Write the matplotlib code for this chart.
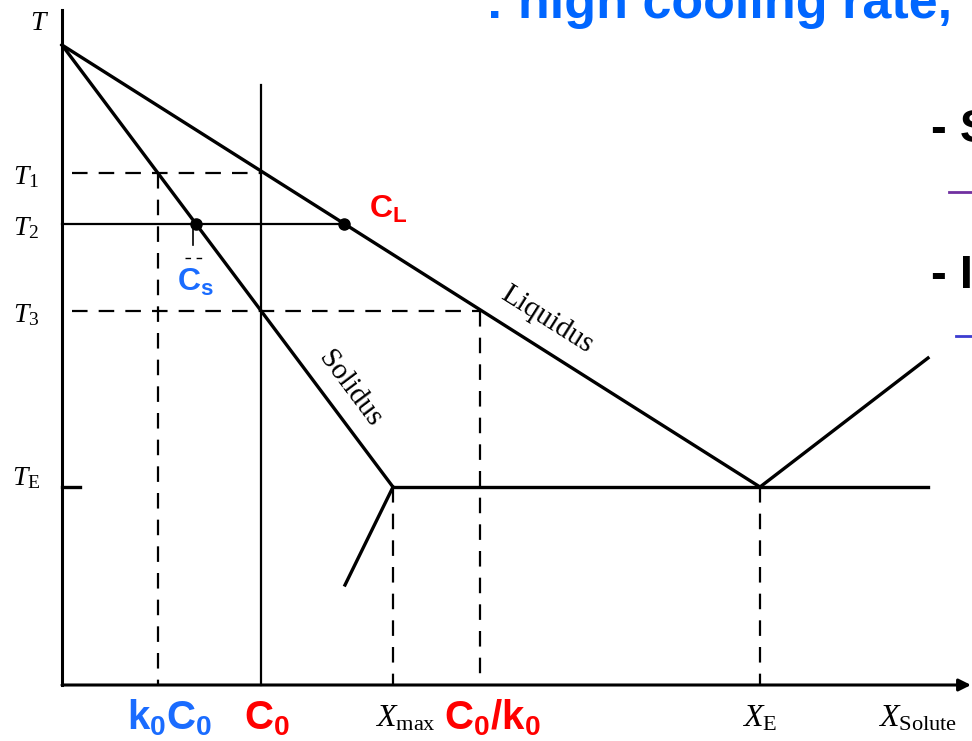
import numpy as np
import matplotlib.pyplot as plt

plt.rcParams['mathtext.fontset'] = 'custom'
plt.rcParams['mathtext.rm'] = 'Liberation Serif'
plt.rcParams['mathtext.it'] = 'Liberation Serif:italic'
plt.rcParams['mathtext.bf'] = 'Liberation Sans:bold'

#%% values (x = composition, T = temperature, arbitrary units)

T_m = 64.0
T1, T2, T3, T_E = 51.2, 46.1, 37.4, 19.8

x_k0C0 = 9.6
x_Cs = 13.4
x_C0 = 19.9
x_CL = 28.2
x_max = 33.1
x_C0k0 = 41.8
x_E = 69.8
x_right = 86.6

liq_x = [0, x_E]
liq_T = [T_m, T_E]
sol_x = [0, x_max]
sol_T = [T_m, T_E]
liq2_x = [x_E, x_right]
liq2_T = [T_E, 32.7]
solvus_x = [x_max, 28.3]
solvus_T = [T_E, 10.0]
eut_x = [x_max, x_right]

T_labels = [r'$T_1$', r'$T_2$', r'$T_3$', r'$T_\mathrm{E}$']
T_vals = [T1, T2, T3, T_E]

#%%

fig = plt.figure(figsize=(9.72, 7.41), dpi=100)
ax = fig.add_axes([0, 0, 1, 1])
ax.set_xlim(-6.2, 91.0)
ax.set_ylim(-5.6, 68.5)
ax.axis('off')

lw_main = 2.4
lw_thin = 1.6
dash = (0, (7, 5))

# axes
ax.plot([0, 0], [0, 67.5], color='k', lw=2.2, solid_capstyle='projecting')
ax.annotate('', xy=(90.9, 0), xytext=(0, 0),
            arrowprops=dict(arrowstyle='-|>', lw=2.2, color='k',
                            mutation_scale=18, shrinkA=0, shrinkB=0))

# phase boundaries
ax.plot(liq_x, liq_T, color='k', lw=lw_main)
ax.plot(sol_x, sol_T, color='k', lw=lw_main)
ax.plot(liq2_x, liq2_T, color='k', lw=lw_main)
ax.plot(solvus_x, solvus_T, color='k', lw=lw_main)
ax.plot(eut_x, [T_E, T_E], color='k', lw=lw_main)
ax.plot([0, 1.8], [T_E, T_E], color='k', lw=lw_main)

# isotherms
ax.plot([1.0, x_C0], [T1, T1], color='k', lw=lw_thin, ls=dash)
ax.plot([0, x_CL], [T2, T2], color='k', lw=lw_thin)
ax.plot([1.0, x_C0k0], [T3, T3], color='k', lw=lw_thin, ls=dash)

# composition verticals
ax.plot([x_C0, x_C0], [0, 60.0], color='k', lw=lw_thin)
ax.plot([x_k0C0, x_k0C0], [T1, 0], color='k', lw=lw_thin, ls=dash)
ax.plot([x_max, x_max], [T_E, 0], color='k', lw=lw_thin, ls=dash)
ax.plot([x_C0k0, x_C0k0], [T3, 0], color='k', lw=lw_thin, ls=dash)
ax.plot([x_E, x_E], [T_E, 0], color='k', lw=lw_thin, ls=dash)
ax.plot([13.1, 13.1], [T2, 44.0], color='k', lw=1.2)
ax.plot([12.3, 14.0], [42.7, 42.7], color='k', lw=1.0, ls=(0, (4, 4)))

# tie-line end points
ax.plot([x_Cs, x_CL], [T2, T2], 'o', color='k', ms=8, ls='none')

# temperature labels
ax.text(-2.2, 66.3, r'$T$', fontsize=20, ha='center', va='center')
for lab, t in zip(T_labels, T_vals):
    off = 1.0 if lab == r'$T_\mathrm{E}$' else -0.3
    ax.text(-3.6, t + off, lab, fontsize=20, ha='center', va='center')

# composition labels
yb = -3.3
ax.text(10.8, yb, r'$\mathbf{k_0C_0}$', fontsize=29, color='#1a6cff', ha='center', va='center')
ax.text(20.5, yb, r'$\mathbf{C_0}$', fontsize=29, color='#ff0000', ha='center', va='center')
ax.text(34.3, yb, r'$X_\mathrm{max}$', fontsize=23, ha='center', va='center')
ax.text(43.0, yb, r'$\mathbf{C_0/k_0}$', fontsize=29, color='#ff0000', ha='center', va='center')
ax.text(69.8, yb, r'$X_\mathrm{E}$', fontsize=23, ha='center', va='center')
ax.text(85.6, yb, r'$X_\mathrm{Solute}$', fontsize=23, ha='center', va='center')

ax.text(32.6, 47.6, r'$\mathbf{C_L}$', fontsize=23, color='#ff0000', ha='center', va='center')
ax.text(13.3, 40.3, r'$\mathbf{C_s}$', fontsize=23, color='#1a6cff', ha='center', va='center')

ax.text(48.5, 36.5, 'Liquidus', fontsize=21, family='Liberation Serif',
        rotation=-32.3, ha='center', va='center', rotation_mode='anchor')
ax.text(28.8, 29.6, 'Solidus', fontsize=21, family='Liberation Serif',
        rotation=-53.2, ha='center', va='center', rotation_mode='anchor')

# slide remnants cut off at the edges
ax.text(42.4, 66.7, ': high cooling rate,', fontsize=37.5, fontweight='bold',
        color='#0066ff', family='Liberation Sans', ha='left', va='baseline')
ax.text(86.9, 54.3, '- S', fontsize=34, fontweight='bold', family='Liberation Sans',
        ha='left', va='baseline')
ax.text(86.9, 39.7, '- I', fontsize=34, fontweight='bold', family='Liberation Sans',
        ha='left', va='baseline')
ax.plot([88.7, 91.0], [49.3, 49.3], color='#7030a0', lw=2)
ax.plot([89.4, 91.0], [34.9, 34.9], color='#3c3cd0', lw=2)

fig.savefig('out.png', dpi=100)
